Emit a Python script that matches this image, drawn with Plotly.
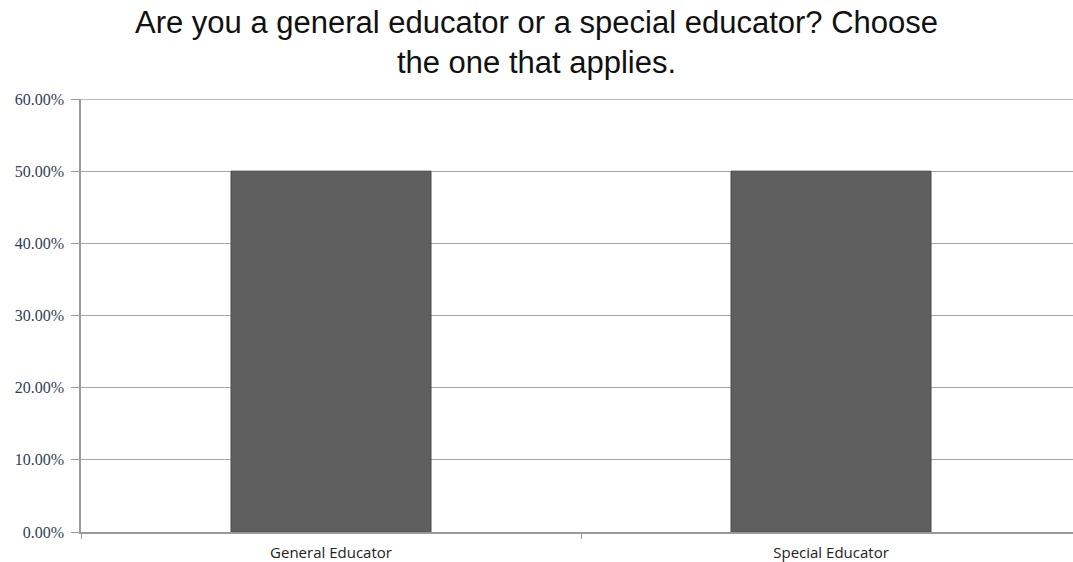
import plotly.graph_objects as go

categories = ["General Educator", "Special Educator"]
shares = [0.50, 0.50]
y_ticks = [0.0, 0.1, 0.2, 0.3, 0.4, 0.5, 0.6]
y_tick_text = ["0.00%", "10.00%", "20.00%", "30.00%", "40.00%", "50.00%", "60.00%"]

fig = go.Figure(
    go.Bar(
        x=categories,
        y=shares,
        width=0.4,
        marker=dict(color="#5f5f5f", line=dict(color="#4a4a4a", width=1)),
        hoverinfo="skip",
    )
)

fig.update_layout(
    width=1073,
    height=562,
    margin=dict(l=81, r=0, t=99, b=30),
    paper_bgcolor="white",
    plot_bgcolor="white",
    showlegend=False,
    title=dict(
        text="Are you a general educator or a special educator? Choose<br>the one that applies.",
        x=0.5,
        xanchor="center",
        y=0.941,
        yanchor="middle",
        font=dict(family="Liberation Sans, Arial, sans-serif", size=31, color="#111111"),
    ),
)

# top gridline at the axis maximum, drawn as a shape so it isn't dropped at the edge
fig.add_shape(
    type="line",
    xref="paper",
    x0=0,
    x1=1,
    yref="y",
    y0=y_ticks[-1],
    y1=y_ticks[-1],
    line=dict(color="#a6a6a6", width=1.3),
    layer="below",
)

fig.update_xaxes(
    range=[-0.5, 1.484],
    showgrid=False,
    showline=True,
    linecolor="#9a9a9a",
    linewidth=1.5,
    ticks="outside",
    tickson="boundaries",
    ticklen=5,
    tickcolor="#9a9a9a",
    ticklabelstandoff=6,
    tickfont=dict(family="Open Sans, Noto Sans, sans-serif", size=15, color="#222222"),
    zeroline=False,
)

fig.update_yaxes(
    range=[0, 0.6],
    tickvals=y_ticks,
    ticktext=y_tick_text,
    showgrid=True,
    gridcolor="#a6a6a6",
    gridwidth=1.3,
    showline=True,
    linecolor="#9a9a9a",
    linewidth=1.5,
    ticks="outside",
    ticklen=8,
    tickcolor="#9a9a9a",
    ticklabelstandoff=4,
    tickfont=dict(family="Liberation Serif, DejaVu Serif, serif", size=16, color="#2f3e55"),
    zeroline=False,
)

fig.write_html("out.html")
